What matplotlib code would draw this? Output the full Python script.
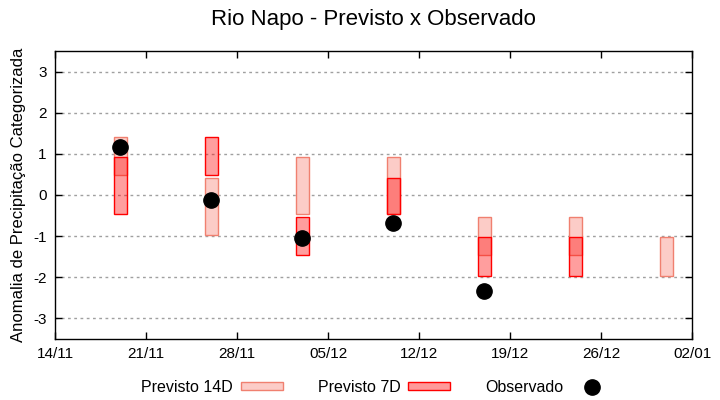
import matplotlib
matplotlib.use("Agg")
import matplotlib.pyplot as plt
import matplotlib.dates as mdates
from matplotlib.patches import Patch
from matplotlib.lines import Line2D
import numpy as np
import datetime as dt

plt.rcParams['font.family'] = ['Liberation Sans', 'DejaVu Sans']

# ---- data ----
weeks = ["2021-11-19", "2021-11-26", "2021-12-03", "2021-12-10",
         "2021-12-17", "2021-12-24", "2021-12-31"]
p14_low  = [0.49, -0.97, -0.46, -0.46, -1.46, -1.46, -1.97]
p14_high = [1.41,  0.41,  0.92,  0.92, -0.53, -0.53, -1.02]
p7_low   = [-0.46, 0.49, -1.46, -0.46, -1.97, -1.97, np.nan]
p7_high  = [0.92,  1.41, -0.53,  0.41, -1.02, -1.02, np.nan]
observed = [1.17, -0.12, -1.04, -0.68, -2.33, np.nan, np.nan]
xtick_labels = ["14/11", "21/11", "28/11", "05/12", "12/12", "19/12", "26/12", "02/01"]
ytick_values = [-3, -2, -1, 0, 1, 2, 3]
title = "Rio Napo - Previsto x Observado"
ylabel = "Anomalia de Precipitação Categorizada"
legend_labels = ["Previsto 14D", "Previsto 7D", "Observado"]

# ---- styling ----
c14_face = (252/255, 204/255, 199/255)
c14_edge = (240/255, 128/255, 112/255)
c7_face = (1.0, 0.0, 0.0, 0.38)
c7_edge = (1.0, 0.0, 0.0)

xdates = [dt.datetime.strptime(w, "%Y-%m-%d") for w in weeks]
xnum = mdates.date2num(xdates)
p14_low = np.array(p14_low); p14_high = np.array(p14_high)
p7_low = np.array(p7_low); p7_high = np.array(p7_high)

fig = plt.figure(figsize=(7.2, 4.0), dpi=100)
ax = fig.add_axes([55/720, 1-339/400, (692-55)/720, (339-51)/400])

ax.bar(xnum, p14_high - p14_low, bottom=p14_low, width=1.0,
       facecolor=c14_face, edgecolor=c14_edge, linewidth=1.0, zorder=2)
m7 = ~np.isnan(p7_low)
ax.bar(xnum[m7], (p7_high - p7_low)[m7], bottom=p7_low[m7], width=1.0,
       facecolor=c7_face, edgecolor=c7_edge, linewidth=1.0, zorder=3)
ax.plot(xnum, observed, linestyle='None', marker='o', color='black',
        markersize=11, zorder=4)

x0 = mdates.date2num(dt.datetime(2021, 11, 14))
x1 = mdates.date2num(dt.datetime(2022, 1, 2))
ax.set_xlim(x0, x1)
ax.set_ylim(-3.5, 3.5)
ax.set_xticks(np.arange(x0, x1 + 0.5, 7))
ax.set_xticklabels(xtick_labels, fontsize=11)
ax.set_yticks(ytick_values)
ax.set_yticklabels([str(v) for v in ytick_values], fontsize=11)
ax.tick_params(direction='in', length=5, width=1, top=True, right=True, pad=6)
ax.yaxis.grid(True, linestyle=(0, (2, 2.5)), color='#a0a0a0', linewidth=1)
ax.set_axisbelow(True)
for s in ax.spines.values():
    s.set_linewidth(1.0)

ax.set_ylabel(ylabel, fontsize=12, labelpad=5)
fig.text(0.5 * (55 + 692) / 720, 1 - 20/400, title, fontsize=16, ha='center', va='center')

handles = [Patch(facecolor=c14_face, edgecolor=c14_edge, linewidth=1.0),
           Patch(facecolor=(1, 0.6, 0.6), edgecolor=c7_edge, linewidth=1.0),
           Line2D([], [], linestyle='None', marker='o', color='black', markersize=11)]
fig.legend(handles, legend_labels, loc='center', bbox_to_anchor=(377/720, 1 - 387/400),
           ncol=3, frameon=False, markerfirst=False, fontsize=11.5,
           handlelength=2.6, handletextpad=0.5, columnspacing=2.2, handleheight=0.45)

fig.savefig("out.png", dpi=100)
